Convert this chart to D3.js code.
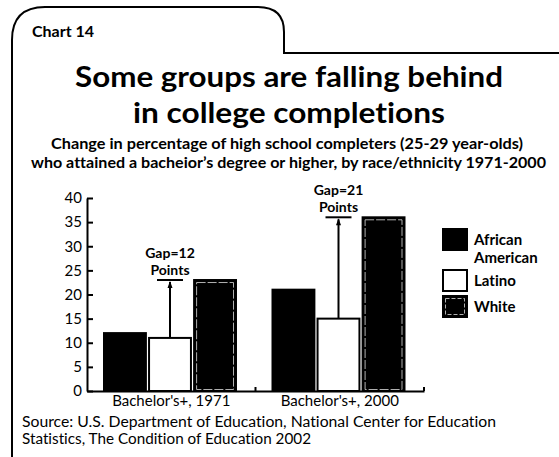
<!DOCTYPE html>
<html>
<head>
<meta charset="utf-8">
<script src="https://cdn.jsdelivr.net/npm/d3@7"></script>
<style>
    body { margin: 0; background: #fff; }
    svg { display: block; font-family: Lato, "Open Sans", sans-serif; font-variant-ligatures: none; }
    text { font-variant-ligatures: none; }
</style>
</head>
<body>
<svg id="chart"></svg>
<script>
// values
var categories = ["Bachelor's+, 1971", "Bachelor's+, 2000"];
var races = ["African American", "Latino", "White"];
var africanAmerican = [12, 21];
var latino = [11, 15];
var white = [23, 36];
var gaps = [12, 21];
var yTicks = [0, 5, 10, 15, 20, 25, 30, 35, 40];
var legendLines = [["African", "American"], ["Latino"], ["White"]];

var width = 559,
    height = 457;

var svg = d3.select("#chart")
    .attr("width", width)
    .attr("height", height);

// frame with the tab
svg.append("path")
    .attr("d", "M12,457 L12,40 Q12,7 45,7 L258,7 Q284,7 284,32 L284,53 L559,53")
    .attr("fill", "none")
    .attr("stroke", "#000")
    .attr("stroke-width", 2);

svg.append("text")
    .attr("x", 32).attr("y", 37)
    .attr("font-size", 16).attr("font-weight", 700)
    .text("Chart 14");

// text lines stretched to the widths in the picture
function line(txt, x, y, w, size, weight) {
    return svg.append("text")
        .attr("x", x).attr("y", y)
        .attr("font-size", size).attr("font-weight", weight)
        .attr("textLength", w)
        .attr("lengthAdjust", "spacingAndGlyphs")
        .text(txt);
}
line("Some groups are falling behind", 75, 87, 428, 29, 700);
line("in college completions", 133, 123, 312, 29, 700);
line("Change in percentage of high school completers (25-29 year-olds)", 51, 149, 472, 14.5, 700);
line("who attained a bacheior\u2019s degree or higher, by race/ethnicity 1971-2000", 31, 168, 515, 14.5, 700);

// scales
var x0 = d3.scaleBand().domain(categories).range([87, 424]);
var x1 = d3.scaleBand().domain(races).range([17, 149]).paddingInner(0.07);
var y = d3.scaleLinear().domain([0, 40]).range([391, 198]);

var rows = categories.map(function (c, i) {
    return {cat: c, values: [africanAmerican[i], latino[i], white[i]], gap: gaps[i]};
});

// bars
var groups = svg.append("g").selectAll("g")
    .data(rows).enter()
    .append("g")
    .attr("transform", function (d) { return "translate(" + x0(d.cat) + ",0)"; });

groups.selectAll("rect.bar")
    .data(function (d) {
        return d.values.map(function (v, j) { return {race: races[j], value: v}; });
    }).enter()
    .append("rect")
    .attr("class", "bar")
    .attr("x", function (d) { return x1(d.race); })
    .attr("y", function (d) { return y(d.value); })
    .attr("width", x1.bandwidth())
    .attr("height", function (d) { return y(0) - y(d.value); })
    .attr("fill", function (d) { return d.race === "Latino" ? "#fff" : "#000"; })
    .attr("stroke", "#000")
    .attr("stroke-width", 2);

// the light inner rim of the White bars
groups.append("rect")
    .attr("x", x1("White") + 2.5)
    .attr("y", function (d) { return y(d.values[2]) + 2.5; })
    .attr("width", x1.bandwidth() - 5)
    .attr("height", function (d) { return y(0) - y(d.values[2]) - 4; })
    .attr("fill", "none")
    .attr("stroke", "#ddd")
    .attr("stroke-width", 0.8)
    .attr("stroke-dasharray", "9,2");

// gap markers
groups.each(function (d) {
    var g = d3.select(this),
        cx = x1("Latino") + x1.bandwidth() / 2,
        top = y(d.values[2]),
        bottom = y(d.values[1]);
    g.append("line")
        .attr("x1", cx).attr("x2", cx)
        .attr("y1", bottom).attr("y2", top + 2)
        .attr("stroke", "#000").attr("stroke-width", 2);
    g.append("line")
        .attr("x1", cx - 13).attr("x2", cx + 13)
        .attr("y1", top).attr("y2", top)
        .attr("stroke", "#000").attr("stroke-width", 2);
    g.append("path")
        .attr("d", "M" + (cx - 2.5) + "," + (top + 8) + " L" + cx + "," + (top + 1) + " L" + (cx + 2.5) + "," + (top + 8) + "Z")
        .attr("fill", "#000");
    g.append("text")
        .attr("x", cx).attr("y", top - 22)
        .attr("text-anchor", "middle")
        .attr("font-size", 14).attr("font-weight", 700)
        .text("Gap=" + d.gap);
    g.append("text")
        .attr("x", cx).attr("y", top - 5)
        .attr("text-anchor", "middle")
        .attr("font-size", 14).attr("font-weight", 700)
        .text("Points");
});

// y axis, ticks pointing inward
var yAxis = svg.append("g")
    .attr("transform", "translate(87,0)")
    .call(d3.axisLeft(y).tickValues(yTicks).tickSize(-6).tickSizeOuter(0).tickPadding(5));
yAxis.select(".domain").attr("stroke-width", 2);
yAxis.selectAll(".tick line").attr("stroke-width", 2);
yAxis.selectAll("text")
    .attr("font-size", 15)
    .attr("font-family", "Lato, sans-serif")
    .attr("fill", "#000");

// x axis
var xAxis = svg.append("g")
    .attr("transform", "translate(0,391)")
    .call(d3.axisBottom(x0).tickSize(0).tickSizeOuter(0).tickPadding(4));
xAxis.select(".domain").attr("stroke-width", 2);
xAxis.selectAll("text")
    .attr("font-size", 15)
    .attr("font-family", "Lato, sans-serif")
    .attr("fill", "#000");

// small upward ticks at the group boundaries
svg.append("g").selectAll("line")
    .data(categories).enter()
    .append("line")
    .attr("x1", function (d) { return x0(d) + x0.bandwidth(); })
    .attr("x2", function (d) { return x0(d) + x0.bandwidth(); })
    .attr("y1", 391).attr("y2", 387)
    .attr("stroke", "#000").attr("stroke-width", 2);

// legend
var legend = svg.append("g").selectAll("g")
    .data(races).enter()
    .append("g")
    .attr("transform", function (d, i) { return "translate(443," + [229, 270, 296][i] + ")"; });

legend.append("rect")
    .attr("width", 24).attr("height", 21)
    .attr("fill", function (d) { return d === "Latino" ? "#fff" : "#000"; })
    .attr("stroke", "#000").attr("stroke-width", 2);

legend.filter(function (d) { return d === "White"; })
    .append("rect")
    .attr("x", 2.5).attr("y", 2.5).attr("width", 19).attr("height", 16)
    .attr("fill", "none").attr("stroke", "#ddd").attr("stroke-width", 0.8)
    .attr("stroke-dasharray", "4,2");

legend.each(function (d, i) {
    var t = d3.select(this).append("text")
        .attr("font-size", 15).attr("font-weight", 700);
    legendLines[i].forEach(function (s, k) {
        t.append("tspan").attr("x", 31).attr("y", 16 + k * 18).text(s);
    });
});

// source
line("Source: U.S. Department of Education, National Center for Education", 22, 427, 474, 14.5, 400);
line("Statistics, The Condition of Education 2002", 22, 444, 289, 14.5, 400);
</script>
</body>
</html>
